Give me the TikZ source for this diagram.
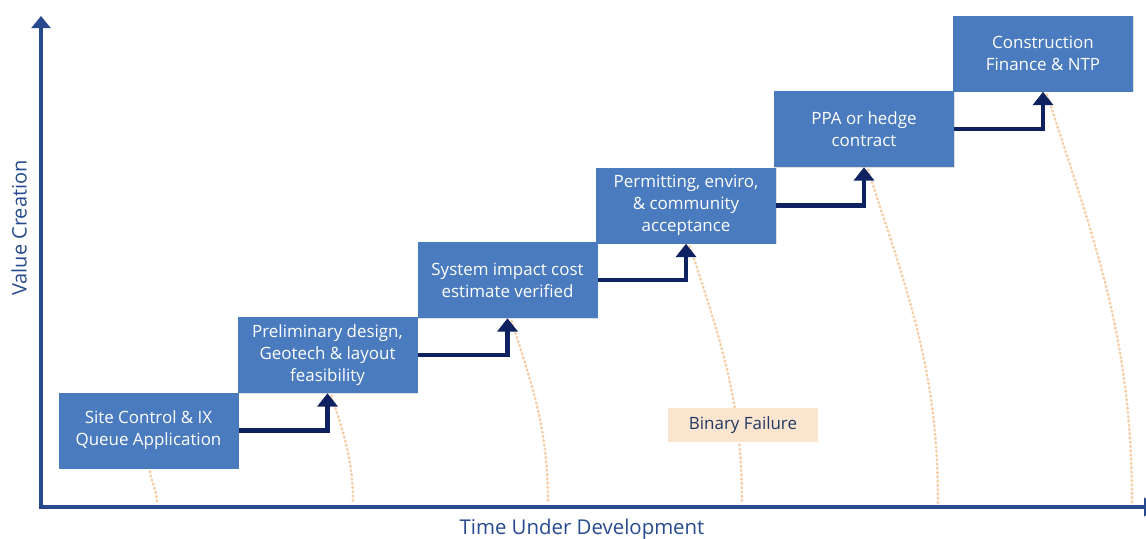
\documentclass[tikz,border=0pt]{standalone}
\usepackage{fontspec}
\setmainfont{Open Sans}
\usetikzlibrary{arrows.meta,shadows}

\definecolor{stepblue}{HTML}{4A7BBF}
\definecolor{axisblue}{HTML}{274A8E}
\definecolor{climbnavy}{HTML}{0E2160}
\definecolor{failpeach}{HTML}{F7CDA6}
\definecolor{failfill}{HTML}{FCE5CF}
\definecolor{labelnavy}{HTML}{1F3864}

\tikzset{
  stage/.style={fill=stepblue, text=white, minimum width=135pt, minimum height=57pt,
    inner sep=0pt, align=center, font=\fontsize{12.7}{16.5}\selectfont,
    drop shadow={shadow xshift=0.6pt, shadow yshift=-0.6pt, opacity=0.25}},
  climb/.style={climbnavy, line width=3.2pt, -{Triangle[width=15pt,length=10pt]}},
  failline/.style={failpeach, line width=2pt, line cap=round, dash pattern=on 0.6pt off 2.6pt},
  axisline/.style={axisblue, line width=3pt, -{Triangle[width=14pt,length=9pt]}}
}

\begin{document}
\begin{tikzpicture}[x=0.75pt,y=0.75pt,yscale=-1,xscale=1]
\useasboundingbox (0,0) rectangle (1146,539);

%Axes
\coordinate (origin) at (41,507);
\coordinate (ytop) at (41,16);
\coordinate (xend) at (1156,507);
\draw[axisline] ([yshift=-1.5pt]origin) -- (ytop);
\draw[axisline] ([xshift=-1.5pt]origin) -- (xend);

% Text Node
\node[rotate=90, text=axisblue, font=\fontsize{15}{17}\selectfont] (ylab) at (19,228) {Value Creation};
% Text Node
\node[text=axisblue, font=\fontsize{15.3}{17}\selectfont] (xlab) at (582,529) {Time Under Development};

%Shape: Rectangle (stages)
\node[stage] (s1) at (148.5,430.5) {Site Control \& IX\\Queue Application};
\node[stage] (s2) at (327.5,355) {Preliminary design,\\Geotech \& layout\\feasibility};
\node[stage] (s3) at (507.5,280) {System impact cost\\estimate verified};
\node[stage] (s4) at (686,205.5) {Permitting, enviro,\\\& community\\acceptance};
\node[stage] (s5) at (864,129) {PPA or hedge\\contract};
\node[stage] (s6) at (1043,53.5) {Construction\\Finance \& NTP};

%Failure points on the time axis
\coordinate (f1) at (157,504);
\coordinate (f2) at (353,504);
\coordinate (f3) at (548,504);
\coordinate (f4) at (742,504);
\coordinate (f5) at (938,504);
\coordinate (f6) at (1132,504);

%Curves (angles flipped because of yscale=-1)
\draw[failline] ([xshift=1pt,yshift=2pt]s1.south) to[out=80,in=-90] (f1);
\foreach \i in {2,...,6}
  \draw[failline] ([xshift=3pt,yshift=2pt]s\i.south) to[out=72,in=-90] (f\i);

% Text Node
\node[fill=failfill, text=labelnavy, minimum width=112pt, minimum height=25.5pt, inner sep=0pt,
  font=\fontsize{12.7}{15}\selectfont] (fail) at (743,425) {Binary Failure};

%Straight Lines (steps)
\foreach \a/\b in {s1/s2,s2/s3,s3/s4,s4/s5,s5/s6}
  \draw[climb] (\a.east) -| (\b.south);

\end{tikzpicture}
\end{document}
